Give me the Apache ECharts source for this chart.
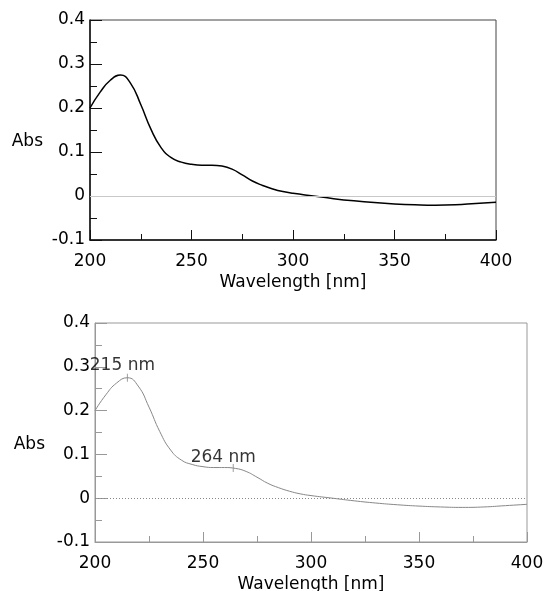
<!DOCTYPE html>
<html>
<head>
<meta charset="utf-8">
<script src="https://cdn.jsdelivr.net/npm/echarts@6/dist/echarts.min.js"></script>
<style>
html,body{margin:0;padding:0;background:#fff;}
#chart{width:548px;height:591px;}
</style>
</head>
<body>
<div id="chart"></div>
<script>
// Data
var wavelengths = [200,205,210,215,220,225,230,235,240,245,250,255,260,265,270,275,280,285,290,295,300,310,320,330,340,350,360,370,380,390,400];
var absorbance  = [0.200,0.236,0.263,0.275,0.256,0.208,0.152,0.110,0.087,0.077,0.072,0.070,0.070,0.068,0.061,0.048,0.034,0.024,0.016,0.010,0.006,0.000,-0.006,-0.011,-0.015,-0.018,-0.020,-0.021,-0.020,-0.017,-0.014];
var peakWavelengths = [215, 264];
var peakAbs = [0.275, 0.069];
var peakLabels = ['215 nm', '264 nm'];
var xTitle = 'Wavelength [nm]';
var yTitle = 'Abs';

var FONT = 'DejaVu Sans';
var pairs = wavelengths.map(function (w, i) { return [w, absorbance[i]]; });

function makeX(idx, color) {
  return {
    type: 'value', gridIndex: idx, min: 200, max: 400, interval: 50,
    name: xTitle, nameLocation: 'middle', nameGap: 34,
    nameTextStyle: {fontFamily: FONT, fontSize: 17, color: '#000'},
    axisLine: {show: true, onZero: false, lineStyle: {color: color, width: idx === 0 ? 1.5 : 1}},
    axisTick: {show: true, inside: true, length: 10, lineStyle: {color: color}},
    minorTick: {show: true, splitNumber: 2, length: 6, lineStyle: {color: color}},
    axisLabel: {fontFamily: FONT, fontSize: 17, color: '#000', margin: 13},
    splitLine: {show: false}
  };
}
function makeY(idx, color, gap) {
  return {
    type: 'value', gridIndex: idx, min: -0.1, max: 0.4, interval: 0.1,
    name: yTitle, nameLocation: 'middle', nameGap: gap, nameRotate: 0,
    nameTextStyle: {fontFamily: FONT, fontSize: 17, color: '#000', verticalAlign: 'top', lineHeight: 24},
    axisLine: {show: true, onZero: false, lineStyle: {color: color, width: idx === 0 ? 1.5 : 1}},
    axisTick: {show: true, inside: true, length: 12, lineStyle: {color: color}},
    minorTick: {show: true, splitNumber: 2, length: 7, lineStyle: {color: color}},
    axisLabel: {fontFamily: FONT, fontSize: 17, color: '#000', margin: 5},
    splitLine: {show: false}
  };
}

var chart = echarts.init(document.getElementById('chart'), null, {renderer: 'canvas'});
chart.setOption({
  animation: false,
  backgroundColor: '#fff',
  grid: [
    {left: 90, top: 20, width: 406, height: 220, show: true, borderColor: '#444', borderWidth: 1, backgroundColor: 'transparent', outerBoundsMode: 'none', containLabel: false},
    {left: 95, top: 323, width: 432, height: 219, show: true, borderColor: '#999', borderWidth: 1, backgroundColor: 'transparent', outerBoundsMode: 'none', containLabel: false}
  ],
  xAxis: [makeX(0, '#111'), makeX(1, '#999')],
  yAxis: [makeY(0, '#111', 47), makeY(1, '#999', 50)],
  series: [
    {
      type: 'line', xAxisIndex: 0, yAxisIndex: 0, data: pairs, smooth: 0.5,
      showSymbol: false, lineStyle: {color: '#000', width: 1.5},
      markLine: {silent: true, symbol: 'none', label: {show: false},
        lineStyle: {color: '#c8c8c8', type: 'solid', width: 1}, data: [{yAxis: 0}]}
    },
    {
      type: 'line', xAxisIndex: 1, yAxisIndex: 1, data: pairs, smooth: 0.5,
      showSymbol: false, lineStyle: {color: '#888', width: 1},
      markLine: {silent: true, symbol: 'none', label: {show: false},
        lineStyle: {color: '#888', type: [1, 2], width: 1}, data: [{yAxis: 0}]}
    },
    {
      type: 'scatter', xAxisIndex: 1, yAxisIndex: 1,
      symbol: 'rect', symbolSize: [1, 8],
      itemStyle: {color: '#888'},
      data: peakWavelengths.map(function (w, i) {
        return {
          value: [w, peakAbs[i]],
          label: {show: true, formatter: peakLabels[i], position: 'top', distance: 0,
            offset: i === 0 ? [-5, 0] : [-10, 2],
            fontFamily: FONT, fontSize: 17, color: '#000'}
        };
      })
    }
  ]
});
</script>
</body>
</html>
